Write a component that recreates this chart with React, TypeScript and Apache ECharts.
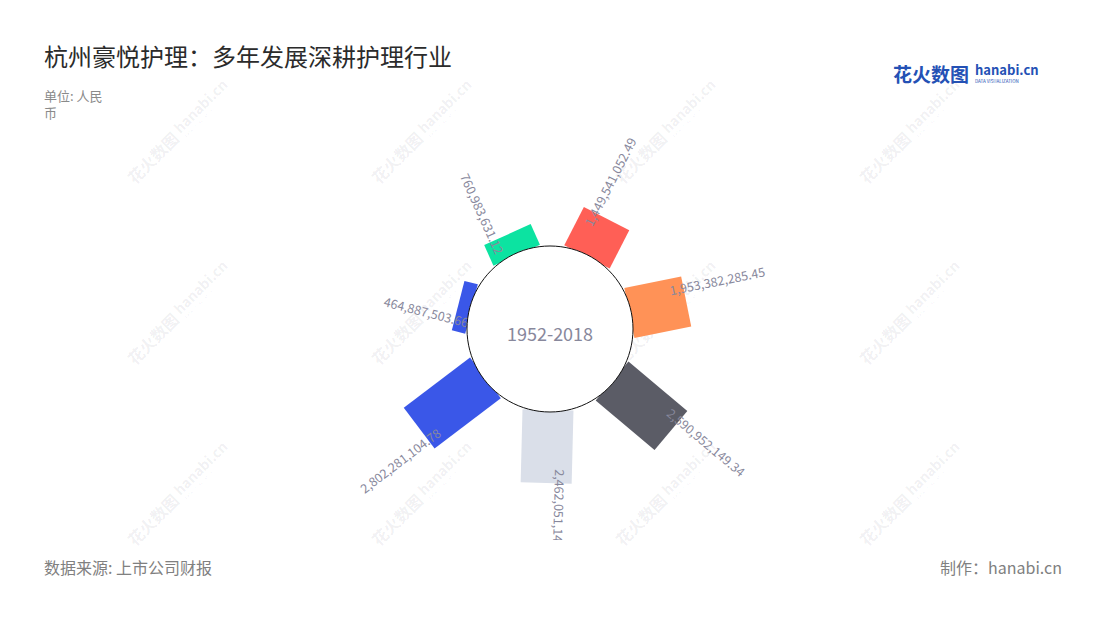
import React, { useEffect, useRef } from "react";
import * as echarts from "echarts";

const CATEGORIES = ["1", "2", "3", "4", "5", "6", "7"];
const VALUES = [
  760983631.12, 1449541052.49, 1953382285.45, 2590952149.34, 2462051149.36,
  2802281104.78, 464887503.66,
];
const COLORS = ["#0ce3a1", "#ff5f56", "#ff9257", "#5b5c66", "#dadfe9", "#3a57e8", "#3a57e8"];
const TITLE = "杭州豪悦护理：多年发展深耕护理行业";
const UNIT = "单位: 人民\n币";
const SOURCE = "数据来源: 上市公司财报";
const MAKER = "制作：hanabi.cn";
const CENTER_LABEL = "1952-2018";

const FONT = "'Noto Sans CJK SC', 'Noto Sans', sans-serif";
const CX = 550;
const CY = 329;
const RMAX = 3000000000;
const LABEL_COLOR = "#88889c";

const fmt = (v: number) =>
  v.toLocaleString("en-US", { minimumFractionDigits: 2, maximumFractionDigits: 2 });

function watermarks() {
  const items: any[] = [];
  const xs = [130, 374, 618, 862];
  const ys = [180, 361, 542];
  for (const x of xs) {
    for (const y of ys) {
      items.push({
        type: "group",
        x,
        y,
        rotation: Math.PI / 4,
        z: 100,
        silent: true,
        children: [
          {
            type: "text",
            x: 0,
            y: 0,
            style: {
              text: "花火数图",
              fill: "rgba(60,60,80,0.08)",
              font: `bold 16px ${FONT}`,
              verticalAlign: "middle",
            },
          },
          {
            type: "text",
            x: 68,
            y: -3,
            style: {
              text: "hanabi.cn",
              fill: "rgba(60,60,80,0.08)",
              font: `bold 14px ${FONT}`,
              verticalAlign: "middle",
            },
          },
          {
            type: "text",
            x: 70,
            y: 8,
            style: {
              text: "DATA VISUALIZATION",
              fill: "rgba(60,60,80,0.07)",
              font: `4px ${FONT}`,
              verticalAlign: "middle",
            },
          },
        ],
      });
    }
  }
  return items;
}

export default function App() {
  const ref = useRef<HTMLDivElement>(null);
  useEffect(() => {
    if (!ref.current) return;
    const chart = echarts.init(ref.current, undefined, { renderer: "svg" });
    const renderItem = (params: any, api: any) => {
      const v = api.value(0);
      const idx = api.value(1);
      const p0 = api.coord([0, idx]);
      const p1 = api.coord([v, idx]);
      const pm = api.coord([RMAX, idx]);
      const dx = pm[0] - p0[0];
      const dy = pm[1] - p0[1];
      const len = Math.sqrt(dx * dx + dy * dy);
      const ux = dx / len;
      const uy = dy / len;
      const nx = uy;
      const ny = -ux;
      const hw = 25.5;
      const pts = [
        [p0[0] + nx * hw, p0[1] + ny * hw],
        [p1[0] + nx * hw, p1[1] + ny * hw],
        [p1[0] - nx * hw, p1[1] - ny * hw],
        [p0[0] - nx * hw, p0[1] - ny * hw],
      ];
      let theta = (Math.atan2(-uy, ux) * 180) / Math.PI;
      theta = (theta + 360) % 360;
      const flip = theta > 90 && theta < 260;
      const ax = p1[0] - ux * 14 + nx * 14;
      const ay = p1[1] - uy * 14 + ny * 14;
      const rot = ((flip ? theta - 180 : theta) * Math.PI) / 180;
      return {
        type: "group",
        clipPath: { type: "rect", shape: { x: 0, y: 0, width: 1100, height: 540 } },
        children: [
          {
            type: "polygon",
            shape: { points: pts },
            style: { fill: COLORS[idx % COLORS.length] },
          },
          {
            type: "text",
            x: ax,
            y: ay,
            rotation: rot,
            z2: 10,
            style: {
              text: fmt(v),
              fill: LABEL_COLOR,
              font: `12.5px ${FONT}`,
              align: flip ? "right" : "left",
              verticalAlign: "middle",
            },
          },
        ],
      };
    };
    chart.setOption({
      animation: false,
      backgroundColor: "#ffffff",
      polar: { center: [CX, CY], radius: [81, 170] },
      angleAxis: {
        type: "category",
        data: CATEGORIES,
        startAngle: 140,
        clockwise: true,
        show: false,
      },
      radiusAxis: { type: "value", min: 0, max: RMAX, show: false },
      series: [
        {
          type: "custom",
          coordinateSystem: "polar",
          data: VALUES.map((v, i) => [v, i]),
          renderItem,
        },
      ],
      graphic: [
        {
          type: "circle",
          z: 50,
          shape: { cx: CX, cy: CY, r: 83 },
          style: { fill: "#ffffff", stroke: "#111111", lineWidth: 1 },
        },
        {
          type: "text",
          z: 51,
          x: CX,
          y: CY + 4,
          style: {
            text: CENTER_LABEL,
            fill: LABEL_COLOR,
            font: `18px ${FONT}`,
            align: "center",
            verticalAlign: "middle",
          },
        },
        {
          type: "text",
          x: 44,
          y: 55,
          style: {
            text: TITLE,
            fill: "#2b2b2b",
            font: `24px ${FONT}`,
            verticalAlign: "middle",
          },
        },
        {
          type: "text",
          x: 44,
          y: 87,
          style: {
            text: UNIT,
            fill: "#8a8a8a",
            font: `13px ${FONT}`,
            lineHeight: 17,
            verticalAlign: "top",
          },
        },
        {
          type: "text",
          x: 44,
          y: 567,
          style: {
            text: SOURCE,
            fill: "#808080",
            font: `16px ${FONT}`,
            verticalAlign: "middle",
          },
        },
        {
          type: "text",
          x: 1062,
          y: 567,
          style: {
            text: MAKER,
            fill: "#808080",
            font: `16px ${FONT}`,
            align: "right",
            verticalAlign: "middle",
          },
        },
        {
          type: "text",
          x: 893,
          y: 73,
          style: {
            text: "花火数图",
            fill: "#2451b5",
            font: `bold 19px ${FONT}`,
            verticalAlign: "middle",
          },
        },
        {
          type: "text",
          x: 975,
          y: 69,
          style: {
            text: "hanabi.cn",
            fill: "#2451b5",
            font: `bold 13px ${FONT}`,
            verticalAlign: "middle",
          },
        },
        {
          type: "text",
          x: 975,
          y: 81,
          style: {
            text: "DATA VISUALIZATION",
            fill: "#2451b5",
            font: `4.5px ${FONT}`,
            verticalAlign: "middle",
          },
        },
        ...watermarks(),
      ],
    });
    return () => chart.dispose();
  }, []);
  return (
    <div
      ref={ref}
      style={{ position: "fixed", left: 0, top: 0, width: 1100, height: 620 }}
    />
  );
}
